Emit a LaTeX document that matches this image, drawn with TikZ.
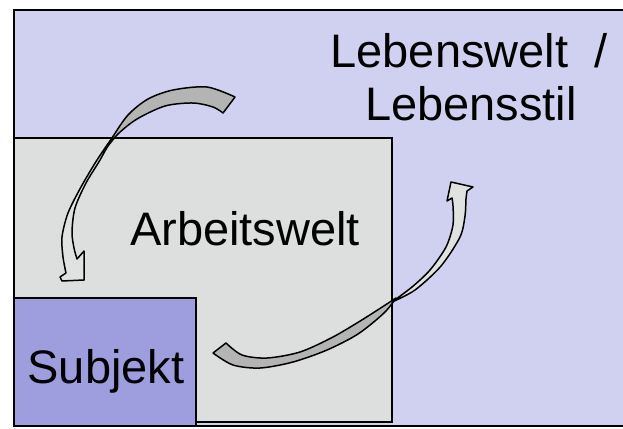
\documentclass[tikz,border=0pt]{standalone}
\usepackage{fontspec}
\setmainfont{Liberation Sans}
\definecolor{lifeworld}{RGB}{208,208,240}
\definecolor{workworld}{RGB}{221,222,222}
\definecolor{subject}{RGB}{158,158,222}
\definecolor{ribbonback}{RGB}{180,180,180}
\definecolor{ribbonfront}{RGB}{224,226,226}
\tikzset{
  area/.style={draw=black, line width=1.8pt},
  label/.style={font=\fontsize{47}{53}\selectfont, anchor=base, inner sep=0pt},
  backface/.style={draw=black, fill=ribbonback, line width=1.5pt, line join=round},
  frontface/.style={draw=black, fill=ribbonfront, line width=1.5pt, line join=round}
}
\begin{document}
\begin{tikzpicture}[x=1pt, y=-1pt]
\useasboundingbox (0,0) rectangle (623,428);
\clip (0,0) rectangle (623,428);

% nested spheres
\filldraw[area, fill=lifeworld] (14,10) rectangle (640,426);
\filldraw[area, fill=workworld] (14,138) rectangle (392,422);
\filldraw[area, fill=subject] (14,298) rectangle (196,426);

% labels
\node[label] (leben1) at (469,67) {Lebenswelt\ \ /};
\node[label] (leben2) at (471,120) {Lebensstil};
\node[label] (arbeit) at (245,245) {Arbeitswelt};
\node[label] (subj) at (106,383) {Subjekt};

% curved ribbon arrow: Lebenswelt -> Subjekt
\draw[backface]
  plot[smooth] coordinates {(235,97) (207,87) (173,90) (148,99) (128,115) (112,138) (105,150)}
  -- plot[smooth] coordinates {(105,150) (118,134) (137,119) (165,106) (193,103) (213,107) (223,113)}
  -- cycle;
\draw[frontface]
  plot[smooth] coordinates {(112,138) (97,160) (81,187) (68,213) (62,237) (63,257) (66,273)}
  -- (60,277) -- (62,281) -- (84,280) -- (84,251) -- (77,259)
  -- plot[smooth] coordinates {(77,259) (74,248) (72,232) (75,208) (86,183) (100,160) (112,138)}
  -- cycle;

% curved ribbon arrow: Subjekt -> Lebenswelt
\draw[backface]
  plot[smooth] coordinates {(226,343) (242,355) (267,358) (300,352) (333,337) (365,318) (396,298)}
  -- plot[smooth] coordinates {(396,298) (384,313) (358,334) (327,350) (293,362) (260,368) (233,365) (213,353)}
  -- cycle;
\draw[frontface]
  plot[smooth] coordinates {(392,302) (412,287) (430,270) (446,247) (453,225) (453,206) (452,198)}
  -- (447,201) -- (451,182) -- (473,187) -- (467,191)
  -- plot[smooth] coordinates {(467,191) (466,199) (465,216) (460,237) (441,266) (415,290) (392,302)}
  -- cycle;
\end{tikzpicture}
\end{document}
